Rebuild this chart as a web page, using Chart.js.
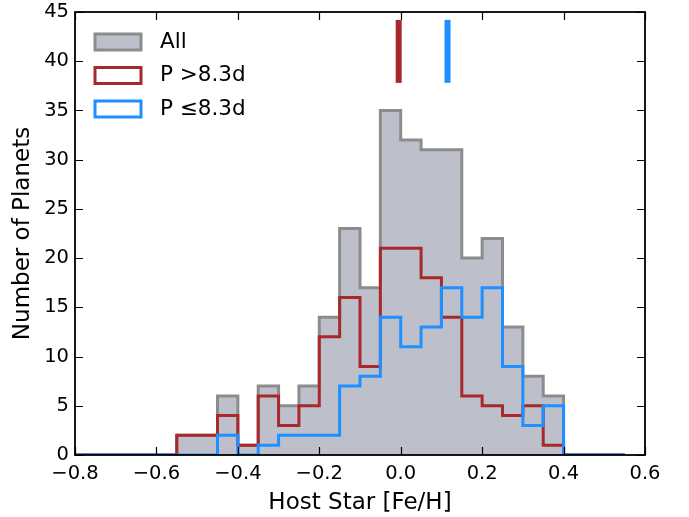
<!DOCTYPE html>
<html>
<head>
<meta charset="utf-8">
<script src="https://cdn.jsdelivr.net/npm/chart.js@4.4.1/dist/chart.umd.min.js"></script>
<style>
  html, body { margin: 0; padding: 0; background: #fff; }
  canvas { display: block; }
</style>
</head>
<body>
<canvas id="canvas" width="689" height="517"></canvas>
<script>
// left edges of the 0.05-wide [Fe/H] bins, last value is the right edge of the final bin
const binEdges = [-0.80, -0.75, -0.70, -0.65, -0.60, -0.55, -0.50, -0.45, -0.40, -0.35,
                  -0.30, -0.25, -0.20, -0.15, -0.10, -0.05, 0.00, 0.05, 0.10, 0.15,
                  0.20, 0.25, 0.30, 0.35, 0.40, 0.45, 0.50, 0.55];

const countsAll   = [0, 0, 0, 0, 0, 2, 2, 6, 1, 7, 5, 7, 14, 23, 17, 35, 32, 31, 31, 20, 22, 13, 8, 6, 0, 0, 0];
const countsLong  = [0, 0, 0, 0, 0, 2, 2, 4, 1, 6, 3, 5, 12, 16, 9, 21, 21, 18, 14, 6, 5, 4, 5, 1, 0, 0, 0];
const countsShort = [0, 0, 0, 0, 0, 0, 0, 2, 0, 1, 2, 2, 2, 7, 8, 14, 11, 13, 17, 14, 17, 9, 3, 5, 0, 0, 0];

// median markers at the top of the panel
const medianLong = -0.005;
const medianShort = 0.115;
const markerSpan = [37.8, 44.2];

const legendLabels = ['All', 'P >8.3d', 'P \u22648.3d'];

const grayEdge = '#8c8c8c';
const grayFill = '#bdc0ca';
const red = '#a8292b';
const blue = '#1e90ff';

function stepPoints(counts) {
    let pts = [{ x: binEdges[0], y: 0 }];
    for (let i = 0; i < counts.length; i++) {
        pts.push({ x: binEdges[i], y: counts[i] });
    }
    pts.push({ x: binEdges[binEdges.length - 1], y: 0 });
    return pts;
}

function markerPoints(x) {
    return [{ x: x, y: markerSpan[0] }, { x: x, y: markerSpan[1] }];
}

function fmtTick(v) {
    if (Math.abs(v) < 1e-9) v = 0;
    return v.toFixed(1).replace('-', '\u2212');
}

// inward ticks on all four sides plus the box, matplotlib style
const framePlugin = {
    id: 'frame',
    afterDatasetsDraw(chart) {
        const ctx = chart.ctx;
        const a = chart.chartArea;
        const xs = chart.scales.x, ys = chart.scales.y;
        const len = 8;
        ctx.save();
        ctx.strokeStyle = '#000';
        ctx.lineWidth = 1.2;
        ctx.beginPath();
        xs.ticks.forEach(t => {
            const px = Math.round(xs.getPixelForValue(t.value)) + 0.5;
            ctx.moveTo(px, a.bottom); ctx.lineTo(px, a.bottom - len);
            ctx.moveTo(px, a.top); ctx.lineTo(px, a.top + len);
        });
        ys.ticks.forEach(t => {
            const py = Math.round(ys.getPixelForValue(t.value)) + 0.5;
            ctx.moveTo(a.left, py); ctx.lineTo(a.left + len, py);
            ctx.moveTo(a.right, py); ctx.lineTo(a.right - len, py);
        });
        ctx.stroke();
        ctx.lineWidth = 1.8;
        ctx.strokeRect(a.left, a.top, a.right - a.left, a.bottom - a.top);
        ctx.restore();
    },
    afterDraw(chart) {
        const ctx = chart.ctx;
        const a = chart.chartArea;
        const styles = [
            { fill: grayFill, edge: grayEdge },
            { fill: '#fff', edge: red },
            { fill: '#fff', edge: blue }
        ];
        ctx.save();
        ctx.font = '21.5px "DejaVu Sans"';
        ctx.textBaseline = 'middle';
        ctx.fillStyle = '#000';
        for (let i = 0; i < legendLabels.length; i++) {
            const bx = a.left + 20, by = a.top + 22 + i * 33.5;
            ctx.fillStyle = styles[i].fill;
            ctx.fillRect(bx, by, 46, 16);
            ctx.strokeStyle = styles[i].edge;
            ctx.lineWidth = 3;
            ctx.strokeRect(bx, by, 46, 16);
            ctx.fillStyle = '#000';
            ctx.fillText(legendLabels[i], a.left + 85, by + 8);
        }
        ctx.restore();
    }
};

const ctx = document.getElementById('canvas').getContext('2d');
window.myChart = new Chart(ctx, {
    type: 'line',
    data: {
        datasets: [
            {
                label: 'All',
                data: stepPoints(countsAll),
                stepped: 'before',
                borderColor: grayEdge,
                backgroundColor: grayFill,
                borderWidth: 3,
                fill: 'origin',
                pointRadius: 0,
                order: 4
            },
            {
                label: 'P >8.3d',
                data: stepPoints(countsLong),
                stepped: 'before',
                borderColor: red,
                borderWidth: 3,
                fill: false,
                pointRadius: 0,
                order: 3
            },
            {
                label: 'P \u22648.3d',
                data: stepPoints(countsShort),
                stepped: 'before',
                borderColor: blue,
                borderWidth: 3,
                fill: false,
                pointRadius: 0,
                order: 2
            },
            {
                label: 'median long',
                data: markerPoints(medianLong),
                borderColor: red,
                borderWidth: 6,
                borderCapStyle: 'butt',
                pointRadius: 0,
                order: 1
            },
            {
                label: 'median short',
                data: markerPoints(medianShort),
                borderColor: blue,
                borderWidth: 6,
                borderCapStyle: 'butt',
                pointRadius: 0,
                order: 1
            }
        ]
    },
    options: {
        responsive: false,
        animation: false,
        layout: { padding: { top: 12, right: 44, left: 0, bottom: 0 } },
        plugins: {
            legend: { display: false },
            tooltip: { enabled: false }
        },
        scales: {
            x: {
                type: 'linear',
                min: -0.8,
                max: 0.6,
                grid: { display: false, drawTicks: false },
                border: { display: false },
                ticks: {
                    stepSize: 0.2,
                    padding: 7,
                    color: '#000',
                    font: { family: 'DejaVu Sans', size: 19.5 },
                    callback: fmtTick
                },
                title: {
                    display: true,
                    text: 'Host Star [Fe/H]',
                    color: '#000',
                    font: { family: 'DejaVu Sans', size: 23 },
                    padding: { top: 2, bottom: 0 }
                },
                afterFit(scale) {
                    scale.height = 62;
                    scale.paddingLeft = 0;
                    scale.paddingRight = 0;
                }
            },
            y: {
                min: 0,
                max: 45,
                grid: { display: false, drawTicks: false },
                border: { display: false },
                ticks: {
                    stepSize: 5,
                    padding: 6,
                    color: '#000',
                    font: { family: 'DejaVu Sans', size: 19.5 }
                },
                title: {
                    display: true,
                    text: 'Number of Planets',
                    color: '#000',
                    font: { family: 'DejaVu Sans', size: 23 },
                    padding: { top: 9, bottom: 0 }
                },
                afterFit(scale) {
                    scale.width = 75;
                    scale.paddingTop = 0;
                    scale.paddingBottom = 0;
                }
            }
        }
    },
    plugins: [framePlugin]
});
</script>
</body>
</html>
